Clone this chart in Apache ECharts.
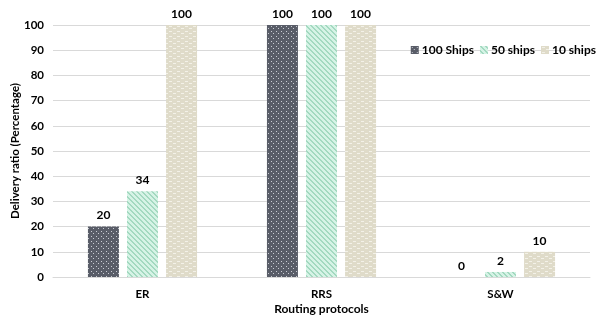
<!DOCTYPE html>
<html><head><meta charset="utf-8">
<script src="https://cdn.jsdelivr.net/npm/echarts@6/dist/echarts.min.js"></script>
<style>html,body{margin:0;padding:0;background:#fff}#c{width:603px;height:320px}</style>
</head><body><div id="c"></div>
<script>
const categories = ['ER', 'RRS', 'S&W'];
const seriesNames = ['100 Ships', '50 ships', '10 ships'];
const ships100 = [20, 100, 0];
const ships50 = [34, 100, 2];
const ships10 = [100, 100, 10];
const yTicks = [0, 10, 20, 30, 40, 50, 60, 70, 80, 90, 100];

function dotPattern() {
  const c = document.createElement('canvas'); c.width = 5; c.height = 5;
  const g = c.getContext('2d');
  g.fillStyle = '#595d68'; g.fillRect(0, 0, 5, 5);
  g.fillStyle = '#c9ccd3';
  g.fillRect(1, 1, 1, 1); g.fillRect(3, 3, 1, 1);
  return { image: c, repeat: 'repeat' };
}
function stripePattern() {
  const c = document.createElement('canvas'); c.width = 5; c.height = 5;
  const g = c.getContext('2d');
  g.fillStyle = '#d6f3e6'; g.fillRect(0, 0, 5, 5);
  g.fillStyle = '#a3d9c0';
  for (let i = 0; i < 5; i++) { g.fillRect(i, i, 1, 1); g.fillRect((i + 1) % 5, i, 1, 1); }
  return { image: c, repeat: 'repeat' };
}
function dashPattern() {
  const c = document.createElement('canvas'); c.width = 8; c.height = 5;
  const g = c.getContext('2d');
  g.fillStyle = '#dfdbc9'; g.fillRect(0, 0, 8, 5);
  g.fillStyle = '#f3f1e8';
  g.fillRect(1, 1, 3, 1); g.fillRect(5, 3, 3, 1);
  return { image: c, repeat: 'repeat' };
}

const fills = [dotPattern(), stripePattern(), dashPattern()];
const values = [ships100, ships50, ships10];
const FONT = 'Lato';

const chart = echarts.init(document.getElementById('c'), null, { renderer: 'canvas' });
chart.setOption({
  animation: false,
  textStyle: { fontFamily: FONT },
  grid: { left: 53, right: 13, top: 25, bottom: 43, outerBoundsMode: 'none', containLabel: false },
  legend: {
    right: 2, top: 39,
    icon: 'rect',
    itemWidth: 8, itemHeight: 8, itemGap: 6,
    textStyle: { fontFamily: FONT, fontWeight: 'bold', fontSize: 12, color: '#000', padding: [0, 0, 0, -2] },
    data: seriesNames
  },
  xAxis: {
    type: 'category', data: categories,
    name: 'Routing protocols', nameLocation: 'middle', nameGap: 26, nameMoveOverlap: false,
    nameTextStyle: { fontFamily: FONT, fontWeight: 'bold', fontSize: 12, color: '#000' },
    axisLine: { lineStyle: { color: '#d9d9d9' } },
    axisTick: { show: false },
    axisLabel: { fontFamily: FONT, fontWeight: 'bold', fontSize: 11.5, color: '#000', margin: 11 }
  },
  yAxis: {
    type: 'value', min: 0, max: 100, interval: 10,
    name: 'Delivery ratio (Percentage)', nameLocation: 'middle', nameGap: 32, nameMoveOverlap: false,
    nameTextStyle: { fontFamily: FONT, fontWeight: 'bold', fontSize: 11.5, color: '#000' },
    axisLine: { show: false }, axisTick: { show: false },
    splitLine: { lineStyle: { color: '#d9d9d9' } },
    axisLabel: {
      fontFamily: FONT, fontWeight: 'bold', fontSize: 11.5, color: '#000', margin: 9,
      formatter: v => yTicks.includes(v) ? String(v) : ''
    }
  },
  series: seriesNames.map((n, i) => ({
    name: n, type: 'bar', data: values[i],
    barWidth: 31, barGap: '26%',
    itemStyle: { color: fills[i] },
    label: { show: true, position: 'top', distance: 5, fontFamily: FONT, fontWeight: 'bold', fontSize: 12, color: '#000' }
  }))
});
</script></body></html>
